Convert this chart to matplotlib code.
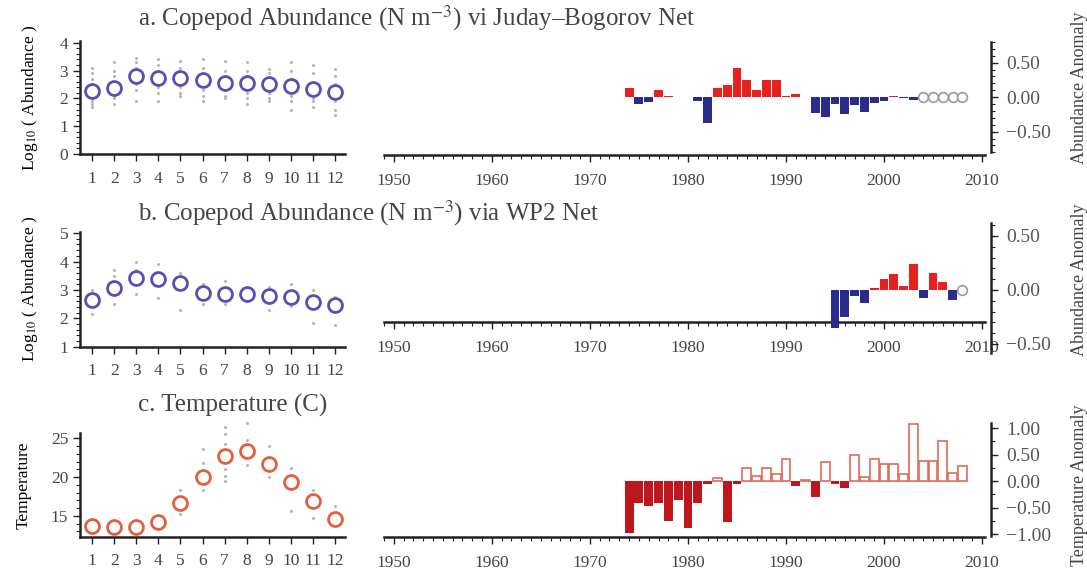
import numpy as np
import matplotlib.pyplot as plt
from matplotlib.ticker import MultipleLocator, FuncFormatter

plt.rcParams['font.family'] = ['Liberation Serif', 'DejaVu Serif']
plt.rcParams['mathtext.fontset'] = 'stix'
plt.rcParams['text.color'] = '#444444'
plt.rcParams['axes.edgecolor'] = '#222222'
plt.rcParams['xtick.color'] = '#222222'
plt.rcParams['ytick.color'] = '#222222'
plt.rcParams['xtick.labelcolor'] = '#444444'
plt.rcParams['ytick.labelcolor'] = '#444444'

months = list(range(1, 13))

# a. copepod abundance, Juday-Bogorov net (log10 N m-3)
a_mean = [2.26, 2.38, 2.82, 2.72, 2.72, 2.66, 2.57, 2.54, 2.50, 2.45, 2.34, 2.22]
a_obs = [[3.1, 2.9, 2.7, 2.5, 2.0, 1.9, 1.8, 1.7],
         [3.3, 3.0, 2.8, 2.6, 2.1, 2.0, 1.8],
         [3.45, 3.3, 3.1, 2.5, 2.3, 1.9],
         [3.4, 3.2, 3.0, 2.4, 2.2, 1.9],
         [3.35, 3.1, 2.9, 2.4, 2.2, 2.1],
         [3.4, 3.1, 2.9, 2.3, 2.1, 1.9],
         [3.35, 3.0, 2.8, 2.3, 2.1, 2.0],
         [3.3, 3.0, 2.8, 2.2, 2.0, 1.8],
         [3.05, 2.9, 2.7, 2.2, 2.0, 1.9],
         [3.3, 3.0, 2.7, 2.1, 1.9, 1.6],
         [3.2, 2.9, 2.6, 2.0, 1.9, 1.7],
         [3.05, 2.8, 2.5, 1.9, 1.6, 1.4]]
a_years = list(range(1974, 2004))
a_anom = [0.13, -0.10, -0.07, 0.10, 0.02, 0.01, 0.005, -0.06, -0.38, 0.13,
          0.17, 0.42, 0.25, 0.10, 0.25, 0.25, 0.02, 0.05, 0.01, -0.23,
          -0.28, -0.10, -0.24, -0.12, -0.21, -0.09, -0.05, 0.02, -0.01, -0.04]
a_missing = [2004, 2005, 2006, 2007, 2008]

# b. copepod abundance, WP2 net
b_mean = [2.65, 3.06, 3.41, 3.38, 3.24, 2.88, 2.85, 2.85, 2.80, 2.76, 2.59, 2.47]
b_obs = [[3.0, 2.15], [3.7, 3.5, 2.5], [4.0, 3.7, 2.85], [3.9, 3.6, 2.7],
         [3.6, 2.3], [3.2, 2.5], [3.3, 2.5], [3.0, 2.6], [3.1, 2.3],
         [3.2, 2.45], [3.0, 1.85], [2.75, 1.75]]
b_years = list(range(1995, 2008))
b_anom = [-0.35, -0.25, -0.06, -0.12, 0.02, 0.10, 0.15, 0.04, 0.24, -0.07,
          0.16, 0.07, -0.09]
b_missing = [2008]

# c. temperature (C)
c_mean = [13.66, 13.49, 13.58, 14.22, 16.68, 20.04, 22.7, 23.4, 21.7, 19.4, 16.94, 14.57]
c_obs = [[13.9], [13.7], [13.8], [14.6], [18.3, 15.2], [23.6, 21.8, 18.3],
         [26.5, 25.5, 24.3, 21.0, 20.2, 19.5], [27.0, 24.8, 21.6], [24.0, 20.0],
         [21.2, 15.6], [18.3, 14.7], [16.2]]
c_years = list(range(1974, 2009))
c_anom = [-0.99, -0.41, -0.47, -0.42, -0.75, -0.35, -0.88, -0.42, -0.05, 0.06,
          -0.77, -0.06, 0.24, 0.09, 0.24, 0.13, 0.41, -0.09, 0.01, -0.30,
          0.35, -0.06, -0.13, 0.49, 0.08, 0.41, 0.32, 0.32, 0.13, 1.07,
          0.38, 0.38, 0.76, 0.16, 0.29]

W, H = 1087, 569
fig = plt.figure(figsize=(W / 100, H / 100), dpi=100)


def box(x0, y_top, x1, y_bot):
    return [x0 / W, 1 - y_bot / H, (x1 - x0) / W, (y_bot - y_top) / H]


def left_panel(rect, mean, obs, ylim, major, minor, color, ylabel):
    ax = fig.add_axes(rect)
    for m, vals in zip(months, obs):
        ax.plot([m] * len(vals), vals, 'o', ms=2.2, color='#b5b5b5', mec='none', clip_on=False)
    ax.plot(months, mean, 'o', ms=10, mfc='white', mec=color, mew=2, clip_on=False, zorder=3)
    ax.set_xlim(0.45, 12.45)
    ax.set_ylim(*ylim)
    ax.set_xticks(months)
    ax.yaxis.set_major_locator(MultipleLocator(major))
    ax.yaxis.set_minor_locator(MultipleLocator(minor))
    for s in ['top', 'right']:
        ax.spines[s].set_visible(False)
    ax.spines['left'].set_linewidth(1.8)
    ax.spines['bottom'].set_linewidth(1.8)
    ax.tick_params(labelsize=12.5, length=5, width=1)
    ax.tick_params(axis='x', pad=7)
    ax.tick_params(which='minor', length=3, width=0.8)
    ax.set_ylabel(ylabel, fontsize=12.5, labelpad=14)
    return ax


def right_panel(yr_rect, an_rect, years, anom, ylim, major, minor, pos_c, neg_c,
                missing=None, hollow_pos=False):
    ax = fig.add_axes(yr_rect)
    ax.set_xlim(1949, 2010.3)
    ax.set_yticks([])
    for s in ['top', 'right', 'left']:
        ax.spines[s].set_visible(False)
    ax.spines['bottom'].set_linewidth(1.8)
    ax.xaxis.set_major_locator(MultipleLocator(10))
    ax.xaxis.set_minor_locator(MultipleLocator(1))
    ax.tick_params(labelsize=12.5, length=5, width=1, pad=8)
    ax.tick_params(which='minor', length=3, width=0.8)
    ax.patch.set_alpha(0)

    an = fig.add_axes(an_rect, sharex=ax)
    an.patch.set_alpha(0)
    for s in ['top', 'left', 'bottom']:
        an.spines[s].set_visible(False)
    an.spines['right'].set_position(('outward', 4))
    an.spines['right'].set_linewidth(1.8)
    an.yaxis.tick_right()
    an.xaxis.set_visible(False)
    an.set_ylim(*ylim)
    an.yaxis.set_major_locator(MultipleLocator(major))
    an.yaxis.set_minor_locator(MultipleLocator(minor))
    an.yaxis.set_major_formatter(FuncFormatter(lambda v, p: f'{v:.2f}'.replace('-', '\u2212')))
    an.tick_params(labelsize=14, length=5, width=1, pad=6, labelcolor='#555555')
    an.tick_params(which='minor', length=3, width=0.8)

    years = np.array(years)
    anom = np.array(anom)
    pos = anom >= 0
    if hollow_pos:
        an.bar(years[pos], anom[pos], width=0.9, facecolor='white', edgecolor=pos_c, linewidth=1.2)
    else:
        an.bar(years[pos], anom[pos], width=0.9, color=pos_c)
    an.bar(years[~pos], anom[~pos], width=0.9, color=neg_c)
    if missing:
        an.plot(missing, [0] * len(missing), 'o', ms=7, mfc='white', mec='#9a9a9a', mew=1.2)
    an.set_xlim(1949, 2010.3)
    return ax, an


blue = '#5550b5'
orange = '#e2603f'
red = '#e8211f'
navy = '#2a2c8c'

# left panels
left_panel(box(80, 41.4, 345, 154), a_mean, a_obs, (0, 4.05), 1, 0.2, blue,
           r'Log$_{10}$ ( Abundance )')
left_panel(box(80, 231.7, 345, 346.7), b_mean, b_obs, (1, 5.05), 1, 0.2, blue,
           r'Log$_{10}$ ( Abundance )')
left_panel(box(80, 433.3, 345, 536.7), c_mean, c_obs, (12.3, 25.65), 5, 1, orange,
           'Temperature')

# right panels
right_panel(box(384, 40, 985, 155), box(384, 42, 985, 152.4), a_years, a_anom,
            (-0.8, 0.8), 0.5, 0.1, red, navy, a_missing)
right_panel(box(384, 220, 985, 322), box(384, 223, 985, 352.6), b_years, b_anom,
            (-0.58, 0.62), 0.5, 0.1, red, navy, b_missing)
right_panel(box(384, 420, 985, 537), box(384, 422.7, 985, 535.6), c_years, c_anom,
            (-1.03, 1.1), 0.5, 0.25, '#e06a55', '#bf161c', hollow_pos=True)

# titles
fig.text(138 / W, 1 - 18 / H, r'a. Copepod Abundance (N m$^{-3}$) vi Juday–Bogorov Net',
         fontsize=18, ha='left', va='center')
fig.text(138 / W, 1 - 213 / H, r'b. Copepod Abundance (N m$^{-3}$) via WP2 Net',
         fontsize=18, ha='left', va='center')
fig.text(138 / W, 1 - 405 / H, 'c. Temperature (C)',
         fontsize=18, ha='left', va='center')

# right-hand labels (cut at the edge as in the source)
fig.text(1080 / W, 1 - 88 / H, 'Abundance Anomaly', rotation=90, fontsize=13,
         ha='center', va='center')
fig.text(1080 / W, 1 - 280 / H, 'Abundance Anomaly', rotation=90, fontsize=13,
         ha='center', va='center')
fig.text(1080 / W, 1 - 485 / H, 'Temperature Anomaly', rotation=90, fontsize=13,
         ha='center', va='center')

fig.savefig('out.png', dpi=100)
